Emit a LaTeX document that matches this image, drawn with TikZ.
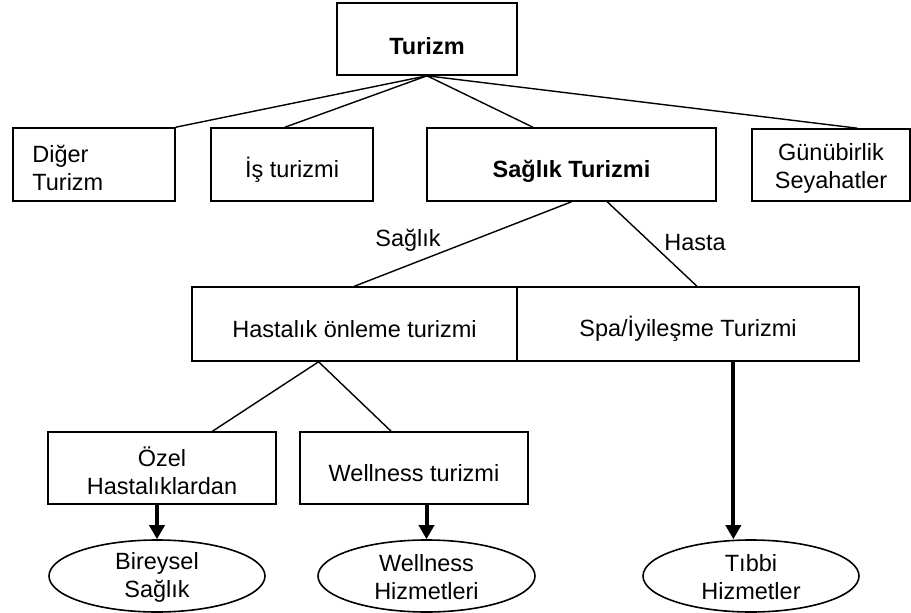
\documentclass[tikz,border=0pt]{standalone}
\usepackage{fontspec}
\setmainfont{Liberation Sans}
\usetikzlibrary{arrows.meta,calc,shapes.geometric}

\begin{document}
\begin{tikzpicture}[x=1pt,y=-1pt,
  every node/.style={font=\fontsize{23.5pt}{28pt}\selectfont, inner sep=0pt},
  box/.style={draw, line width=1.6pt, rectangle},
  oval/.style={draw, line width=1.6pt, ellipse, minimum width=216pt, minimum height=72pt},
  txt/.style={align=center},
  boldtxt/.style={align=center, font=\fontsize{23.5pt}{28pt}\selectfont\bfseries},
  link/.style={line width=1.4pt},
  flow/.style={line width=4pt, -{Triangle[width=15pt,length=14pt]}}
]
\useasboundingbox (0,0) rectangle (911,613);

% top level
\node[box, minimum width=180pt, minimum height=72pt] (tur) at (427,39) {};
\node[boldtxt] (turT) at ($(tur.center)+(0,7)$) {Turizm};

% second level
\node[box, minimum width=162pt, minimum height=73pt] (diger) at (94,164.5) {};
\node[txt, align=left, anchor=west] (digerT) at ($(diger.west)+(20,3)$) {Diğer\\Turizm};
\node[box, minimum width=162pt, minimum height=73pt] (is) at (292,164.5) {};
\node[txt] (isT) at ($(is.center)+(0,5)$) {İş turizmi};
\node[box, minimum width=289pt, minimum height=73pt] (saglik) at (571.5,164.5) {};
\node[boldtxt] (saglikT) at ($(saglik.center)+(0,7)$) {Sağlık Turizmi};
\node[box, minimum width=158pt, minimum height=72pt] (gun) at (831,165) {};
\node[txt] (gunT) at ($(gun.center)+(0,3)$) {Günübirlik\\Seyahatler};

% third level
\node[box, minimum width=325pt, minimum height=74pt] (hast) at (354.5,324) {};
\node[txt] (hastT) at ($(hast.center)+(0,5)$) {Hastalık önleme turizmi};
\node[box, minimum width=342pt, minimum height=74pt] (spa) at (688,324) {};
\node[txt] (spaT) at ($(spa.center)+(0,5)$) {Spa/İyileşme Turizmi};

% fourth level
\node[box, minimum width=228pt, minimum height=72pt] (ozel) at (162,468) {};
\node[txt] (ozelT) at ($(ozel.center)+(0,3)$) {Özel\\Hastalıklardan};
\node[box, minimum width=228pt, minimum height=72pt] (well) at (414,468) {};
\node[txt] (wellT) at ($(well.center)+(0,5)$) {Wellness turizmi};

% outcomes
\node[oval] (bir) at (157,576) {};
\node[txt] (birT) at ($(bir.center)+(0,1)$) {Bireysel\\Sağlık};
\node[oval, minimum width=217pt] (wh) at (426.5,576) {};
\node[txt] (whT) at ($(wh.center)+(0,1)$) {Wellness\\Hizmetleri};
\node[oval] (tib) at (751,576) {};
\node[txt] (tibT) at ($(tib.center)+(0,1)$) {Tıbbi\\Hizmetler};

% branch labels
\node[txt] (lsag) at (408,240) {Sağlık};
\node[txt] (lhas) at (695,243) {Hasta};

% connectors from Turizm
\draw[link] (tur.south) -- (diger.north east);
\draw[link] (tur.south) -- ($(is.north west)!0.457!(is.north east)$);
\draw[link] (tur.south) -- ($(saglik.north west)!0.367!(saglik.north east)$);
\draw[link] (tur.south) -- ($(gun.north west)!0.665!(gun.north east)$);

% connectors from Sağlık Turizmi
\draw[link] (saglik.south) -- (hast.north);
\draw[link] ($(saglik.south west)!0.623!(saglik.south east)$) -- ($(spa.north west)!0.526!(spa.north east)$);

% connectors from Hastalık önleme turizmi
\coordinate (hastout) at ($(hast.south west)!0.39!(hast.south east)$);
\draw[link] (hastout) -- ($(ozel.north west)!0.72!(ozel.north east)$);
\draw[link] (hastout) -- ($(well.north west)!0.40!(well.north east)$);

% arrows to outcomes
\draw[flow] (ozel.south -| bir.north) -- (bir.north);
\draw[flow] (well.south -| wh.north) -- (wh.north);
\coordinate (spaout) at ($(spa.south west)!0.632!(spa.south east)$);
\draw[flow] (spaout) -- (spaout |- tib.north);
\end{tikzpicture}
\end{document}
